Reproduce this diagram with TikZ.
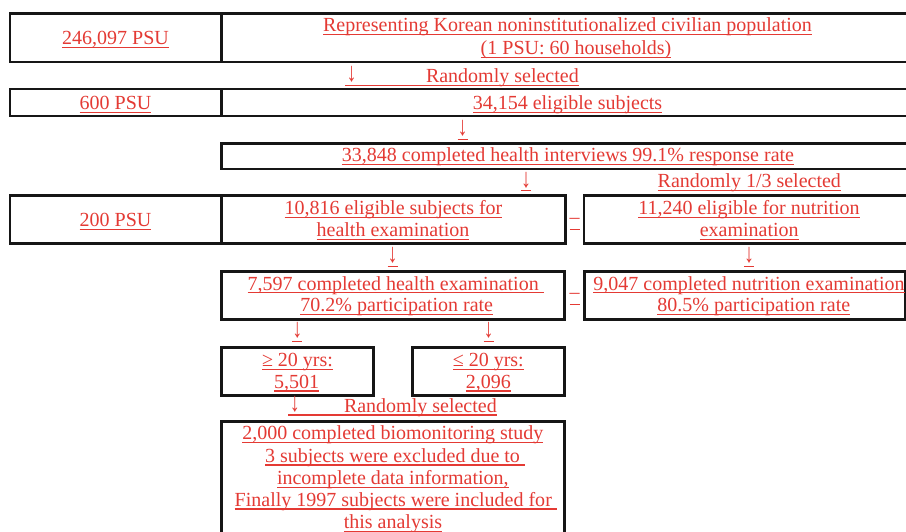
\documentclass[tikz,border=0pt]{standalone}
\usepackage{fontspec}
\setmainfont{Liberation Serif}
\definecolor{tred}{RGB}{228,58,52}
\definecolor{bline}{RGB}{22,22,22}
\newsavebox\ulbox
\newcommand\myul[1]{\sbox\ulbox{#1}\rlap{\rule[-3.3bp]{\wd\ulbox}{1.1bp}}\usebox\ulbox}
\newcommand\darr{\raisebox{0.6bp}{\scalebox{1}[1.35]{↓}}}
\tikzset{
  txt/.style={inner sep=0pt, outer sep=0pt, anchor=base, text=tred, font=\fontsize{20bp}{22bp}\selectfont},
  txtw/.style={txt, anchor=base west},
  cell/.style={draw=bline, line width=2.6bp},
  thincell/.style={draw=bline, line width=2.0bp}
}
\begin{document}
\begin{tikzpicture}[x=1bp,y=-1bp]
\clip (0,0) rectangle (906,532);
\fill[white] (0,0) rectangle (906,532);
% row 1
\draw[cell] (10,13.5) rectangle (940,62);
\draw[cell] (221.3,13.5) -- (221.3,62);
% row 3
\draw[thincell] (10,89.5) rectangle (940,115.8);
\draw[cell] (221.3,89.5) -- (221.3,115.8);
% row 4
\draw[cell] (221.3,143.3) rectangle (940,169);
% row 6
\draw[cell] (10,195.3) rectangle (221.3,243.3);
\draw[cell] (221.3,195.3) rectangle (565.2,243.3);
\draw[cell] (584,195.3) rectangle (940,243.3);
% row 8
\draw[cell] (221.5,271.3) rectangle (564.7,319.5);
\draw[cell] (584.5,271.3) rectangle (905,319.5);
% row 10
\draw[cell] (221.5,347.2) rectangle (373.5,395.2);
\draw[cell] (412.3,347.2) rectangle (564.7,395.2);
% row 12
\draw[cell] (221.5,421.2) rectangle (564.7,560);

% texts
\node[txt] (t1L) at (115.5,44.5) {\myul{246,097 PSU}};
\node[txt] (t1a) at (567.5,31.5) {\myul{Representing Korean noninstitutionalized civilian population}};
\node[txt] (t1b) at (576,54.9) {\myul{(1 PSU: 60 households)}};
\node[txtw] (a2) at (345,82.5) {\myul{\makebox[81bp][l]{\hspace{1.5bp}\darr}Randomly selected}};
\node[txt] (t3L) at (115.5,109.5) {\myul{600 PSU}};
\node[txt] (t3R) at (567.5,109.5) {\myul{34,154 eligible subjects}};
\node[txt] (a4) at (462.5,136.5) {\myul{\darr}};
\node[txt] (t4) at (568,161.9) {\myul{33,848 completed health interviews 99.1\% response rate}};
\node[txt] (a5) at (526,187.9) {\myul{\darr}};
\node[txt] (t5) at (749.3,187.9) {\myul{Randomly 1/3 selected}};
\node[txt] (t6L) at (115.5,226.4) {\myul{200 PSU}};
\node[txt] (t6a) at (393.5,214.5) {\myul{10,816 eligible subjects for}};
\node[txt] (t6b) at (393,236.5) {\myul{health examination}};
\node[txt] (d6) at (574.6,226.5) {\myul{\raisebox{2.5bp}{–}}};
\node[txt] (t6c) at (749,214.5) {\myul{11,240 eligible for nutrition}};
\node[txt] (t6d) at (749.2,236.5) {\myul{examination}};
\node[txt] (a7L) at (392.5,263.5) {\myul{\darr}};
\node[txt] (a7R) at (749,263.5) {\myul{\darr}};
\node[txt] (t8a) at (395.7,290.2) {\myul{7,597 completed health examination\ }};
\node[txt] (t8b) at (396.7,312) {\myul{70.2\% participation rate}};
\node[txt] (d8) at (574.6,301.5) {\myul{\raisebox{2.5bp}{–}}};
\node[txt] (t8c) at (749,290.2) {\myul{9,047 completed nutrition examination}};
\node[txt] (t8d) at (753.8,312) {\myul{80.5\% participation rate}};
\node[txt] (a9L) at (297.3,338.5) {\myul{\darr}};
\node[txt] (a9R) at (488.7,338.5) {\myul{\darr}};
\node[txt] (t10a) at (297.5,366.5) {\myul{≥ 20 yrs:}};
\node[txt] (t10b) at (296.7,388.2) {\myul{5,501}};
\node[txt] (t10c) at (488.3,366.5) {\myul{≤ 20 yrs:}};
\node[txt] (t10d) at (488.3,388.2) {\myul{2,096}};
\node[txtw] (a11) at (288.3,412.2) {\myul{\makebox[55.7bp][l]{\hspace{1.5bp}\darr}Randomly selected}};
\node[txt] (t12a) at (392.8,439.5) {\myul{2,000 completed biomonitoring study}};
\node[txt] (t12b) at (395,462.2) {\myul{3 subjects were excluded due to\ }};
\node[txt] (t12c) at (392.8,484.5) {\myul{incomplete data information,}};
\node[txt] (t12d) at (395.8,506.2) {\myul{Finally 1997 subjects were included for\ }};
\node[txt] (t12e) at (393,528.3) {\myul{this analysis}};
\end{tikzpicture}
\end{document}
